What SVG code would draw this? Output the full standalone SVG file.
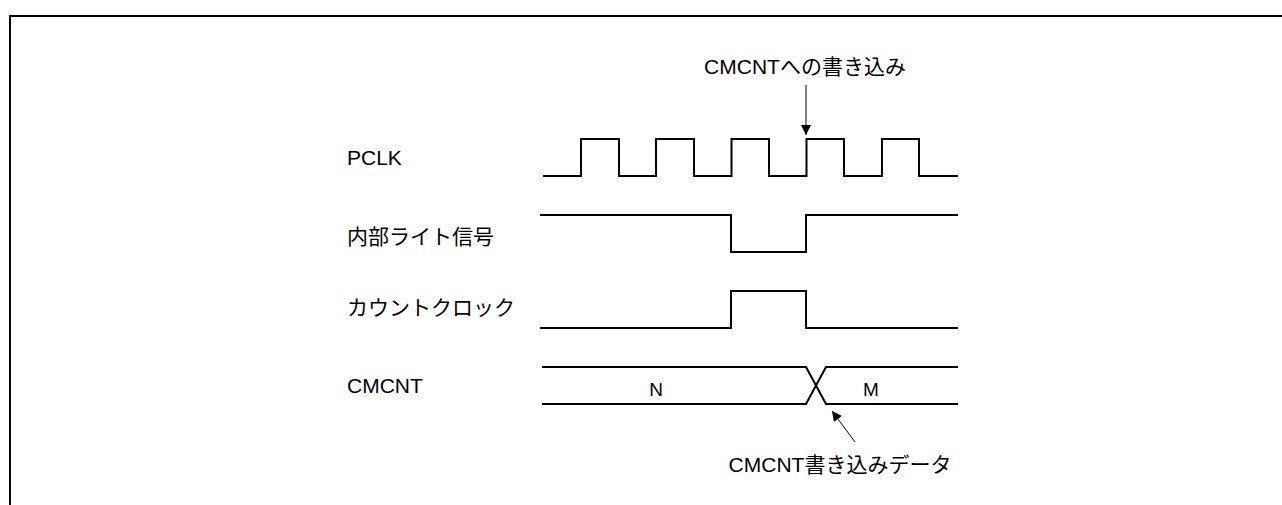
<svg xmlns="http://www.w3.org/2000/svg" width="1282" height="505" viewBox="0 0 1282 505">
<defs>
<style>
.sig{fill:none;stroke:#000;stroke-width:2;stroke-linejoin:miter}
.lbl{font-family:"Liberation Sans","Noto Sans CJK JP",Arial,sans-serif;font-size:21px;fill:#000}
.val{font-family:"Liberation Sans",Arial,sans-serif;font-size:19px;fill:#000;text-anchor:middle}
.ptr{fill:none;stroke:#000;stroke-width:1;marker-end:url(#ah)}
</style>
<marker id="ah" markerWidth="10" markerHeight="10" refX="10" refY="5" orient="auto" markerUnits="userSpaceOnUse">
<path d="M0,0 L10,5 L0,10 Z" fill="#000"/>
</marker>
</defs>
<rect width="1282" height="505" fill="#fff"/>
<path d="M10,505 V16 H1282" fill="none" stroke="#000" stroke-width="2"/>
<g id="labels">
<text class="lbl" x="347" y="165">PCLK</text>
<text class="lbl" x="347" y="244">内部ライト信号</text>
<text class="lbl" x="347" y="315">カウントクロック</text>
<text class="lbl" x="347" y="393">CMCNT</text>
</g>
<g id="pclk">
<path class="sig" d="M543,176 H581 V139 H619 V176 H656 V139 H694 V176 H731.5 V139 H769 V176 H806.5 V139 H844 V176 H882 V139 H919 V176 H958"/>
</g>
<g id="write">
<path class="sig" d="M540,215 H731 V252 H806 V215 H958"/>
</g>
<g id="countclk">
<path class="sig" d="M540,328 H731 V291 H806 V328 H958"/>
</g>
<g id="cmcnt">
<path class="sig" d="M542,367 H806 L826,404 H958"/>
<path class="sig" d="M542,404 H806 L826,367 H958"/>
<text class="val" x="656" y="396">N</text>
<text class="val" x="871" y="396">M</text>
</g>
<g id="connectors">
<line class="ptr" x1="806" y1="85" x2="806" y2="135"/>
<line class="ptr" x1="855" y1="442" x2="832" y2="411"/>
</g>
<g id="notes">
<text class="lbl" x="805" y="74" text-anchor="middle">CMCNTへの書き込み</text>
<text class="lbl" x="840" y="472" text-anchor="middle">CMCNT書き込みデータ</text>
</g>
</svg>
